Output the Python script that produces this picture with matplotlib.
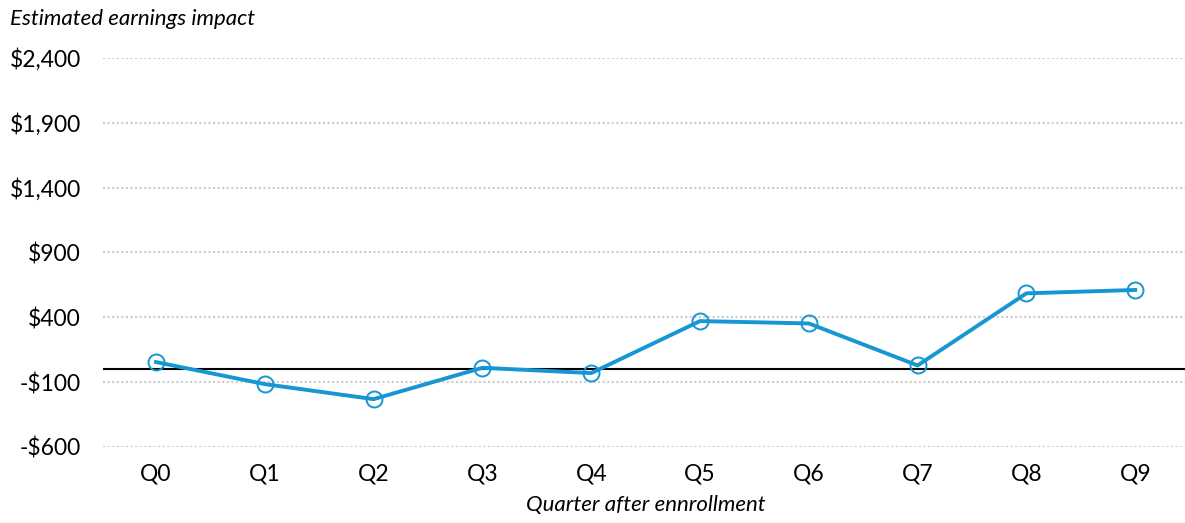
import matplotlib
matplotlib.use("Agg")
import matplotlib.pyplot as plt
from matplotlib.ticker import FixedLocator

quarters = ["Q0", "Q1", "Q2", "Q3", "Q4", "Q5", "Q6", "Q7", "Q8", "Q9"]
impact = [55, -115, -231, 11, -30, 371, 353, 29, 585, 611]
y_ticks = [-600, -100, 400, 900, 1400, 1900, 2400]

BLUE = "#1696d2"

plt.rcParams["font.family"] = ["Lato", "DejaVu Sans"]

W, H = 1185, 523
fig = plt.figure(figsize=(W / 100, H / 100), dpi=100)
ax = fig.add_axes([103 / W, (H - 447) / H, (W - 103) / W, (447 - 58) / H])

x = list(range(len(quarters)))
ax.axhline(0, color="black", lw=1.5, zorder=2)
ax.plot(x, impact, color=BLUE, lw=2.8, marker="o", markersize=11.5,
        markerfacecolor="none", markeredgecolor=BLUE, markeredgewidth=1.4,
        zorder=3, clip_on=False)

ax.set_ylim(-600, 2400)
ax.set_xlim((103 - 156) / 108.8, (W - 156) / 108.8)
ax.yaxis.set_major_locator(FixedLocator(y_ticks))
ax.set_yticklabels([("-$" if v < 0 else "$") + f"{abs(v):,}" for v in y_ticks])
ax.set_xticks(x)
ax.set_xticklabels(quarters)

ax.grid(axis="y", color="#cccccc", linestyle=(0, (1, 1.2)), linewidth=1.5, zorder=1)
ax.grid(axis="x", visible=False)
for s in ax.spines.values():
    s.set_visible(False)
ax.tick_params(axis="y", length=0, pad=16, labelsize=16.5, labelcolor="#000000")
ax.tick_params(axis="x", length=0, pad=12, labelsize=16.5, labelcolor="#000000")

fig.text(10 / W, 1 - 19 / H, "Estimated earnings impact", fontsize=16, style="italic",
         ha="left", va="center")
fig.text(646 / W, 1 - 505 / H, "Quarter after ennrollment", fontsize=16, style="italic",
         ha="center", va="center")

fig.savefig("out.png", dpi=100)
